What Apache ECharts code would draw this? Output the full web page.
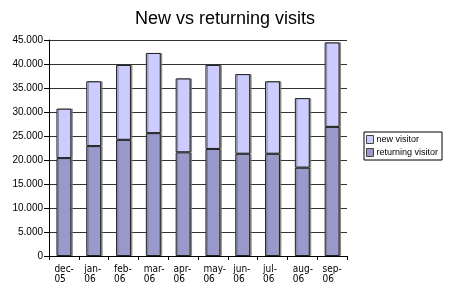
<!DOCTYPE html>
<html><head><meta charset="utf-8">
<script src="https://cdn.jsdelivr.net/npm/echarts@6/dist/echarts.min.js"></script>
<style>html,body{margin:0;padding:0;background:#fff}#c{width:450px;height:291px}</style>
</head><body><div id="c"></div>
<script>
const categories = ['dec-05','jan-06','feb-06','mar-06','apr-06','may-06','jun-06','jul-06','aug-06','sep-06'];
const returningVisitor = [20400, 22900, 24200, 25600, 21600, 22300, 21300, 21300, 18400, 26900];
const totalVisits = [30700, 36400, 39800, 42300, 37000, 39800, 37900, 36400, 32900, 44500];
const newVisitor = totalVisits.map((t, i) => t - returningVisitor[i]);
const yTickLabels = ['0','5.000','10.000','15.000','20.000','25.000','30.000','35.000','40.000','45.000'];

const chart = echarts.init(document.getElementById('c'), null, {renderer:'canvas'});
const font = 'Arial, "Liberation Sans", sans-serif';
const narrow = '"Liberation Sans Narrow", "DejaVu Sans Condensed", Arial, sans-serif';
const barStyle = (color) => ({color: color, borderColor: '#222', borderWidth: 1, shadowColor: 'rgba(120,120,120,0.8)', shadowOffsetX: 1.5, shadowOffsetY: 0, shadowBlur: 0});
chart.setOption({
  animation: false,
  backgroundColor: '#fff',
  title: {text: 'New vs returning visits', left: 'center', top: 5,
    textStyle: {fontFamily: font, fontWeight: 'normal', fontSize: 18, color: '#000'}},
  grid: {left: 49, right: 103, top: 40, bottom: 35},
  legend: {orient: 'vertical', left: 364, top: 132, data: ['new visitor','returning visitor'],
    itemWidth: 7, itemHeight: 8, itemGap: 4, padding: [3, 4, 3, 2], borderColor: '#000', borderWidth: 1,
    itemStyle: {borderColor: '#444', borderWidth: 1, shadowBlur: 0, shadowOffsetX: 0},
    textStyle: {fontFamily: font, fontSize: 9, color: '#000', padding: [0,0,0,-2]}, icon: 'rect'},
  xAxis: {type: 'category', data: categories, boundaryGap: true,
    axisLine: {lineStyle: {color: '#000', width: 1}},
    axisTick: {show: true, length: 4, lineStyle: {color: '#000'}},
    axisLabel: {interval: 0, margin: 8, color: '#000', fontFamily: narrow, fontSize: 10, lineHeight: 10,
      formatter: (v) => { const p = v.split('-'); return '{a|' + p[0] + '-}\n{a|' + p[1] + '}'; },
      rich: {a: {width: 19, align: 'left', fontSize: 10, lineHeight: 10, fontFamily: narrow, color: '#000'}}}
  },
  yAxis: {type: 'value', min: 0, max: 45000, interval: 5000,
    axisLine: {show: true, lineStyle: {color: '#000'}},
    axisTick: {show: true, length: 5, lineStyle: {color: '#000'}},
    splitLine: {show: true, lineStyle: {color: '#333', width: 1}},
    axisLabel: {margin: 6, color: '#000', fontFamily: font, fontSize: 10,
      formatter: (v) => yTickLabels[Math.round(v / 5000)]}},
  series: [
    {name: 'returning visitor', type: 'bar', stack: 'v', data: returningVisitor, barWidth: '50%', itemStyle: barStyle('#9999cc')},
    {name: 'new visitor', type: 'bar', stack: 'v', data: newVisitor, barWidth: '50%', itemStyle: barStyle('#ccccff')}
  ]
});
</script></body></html>
